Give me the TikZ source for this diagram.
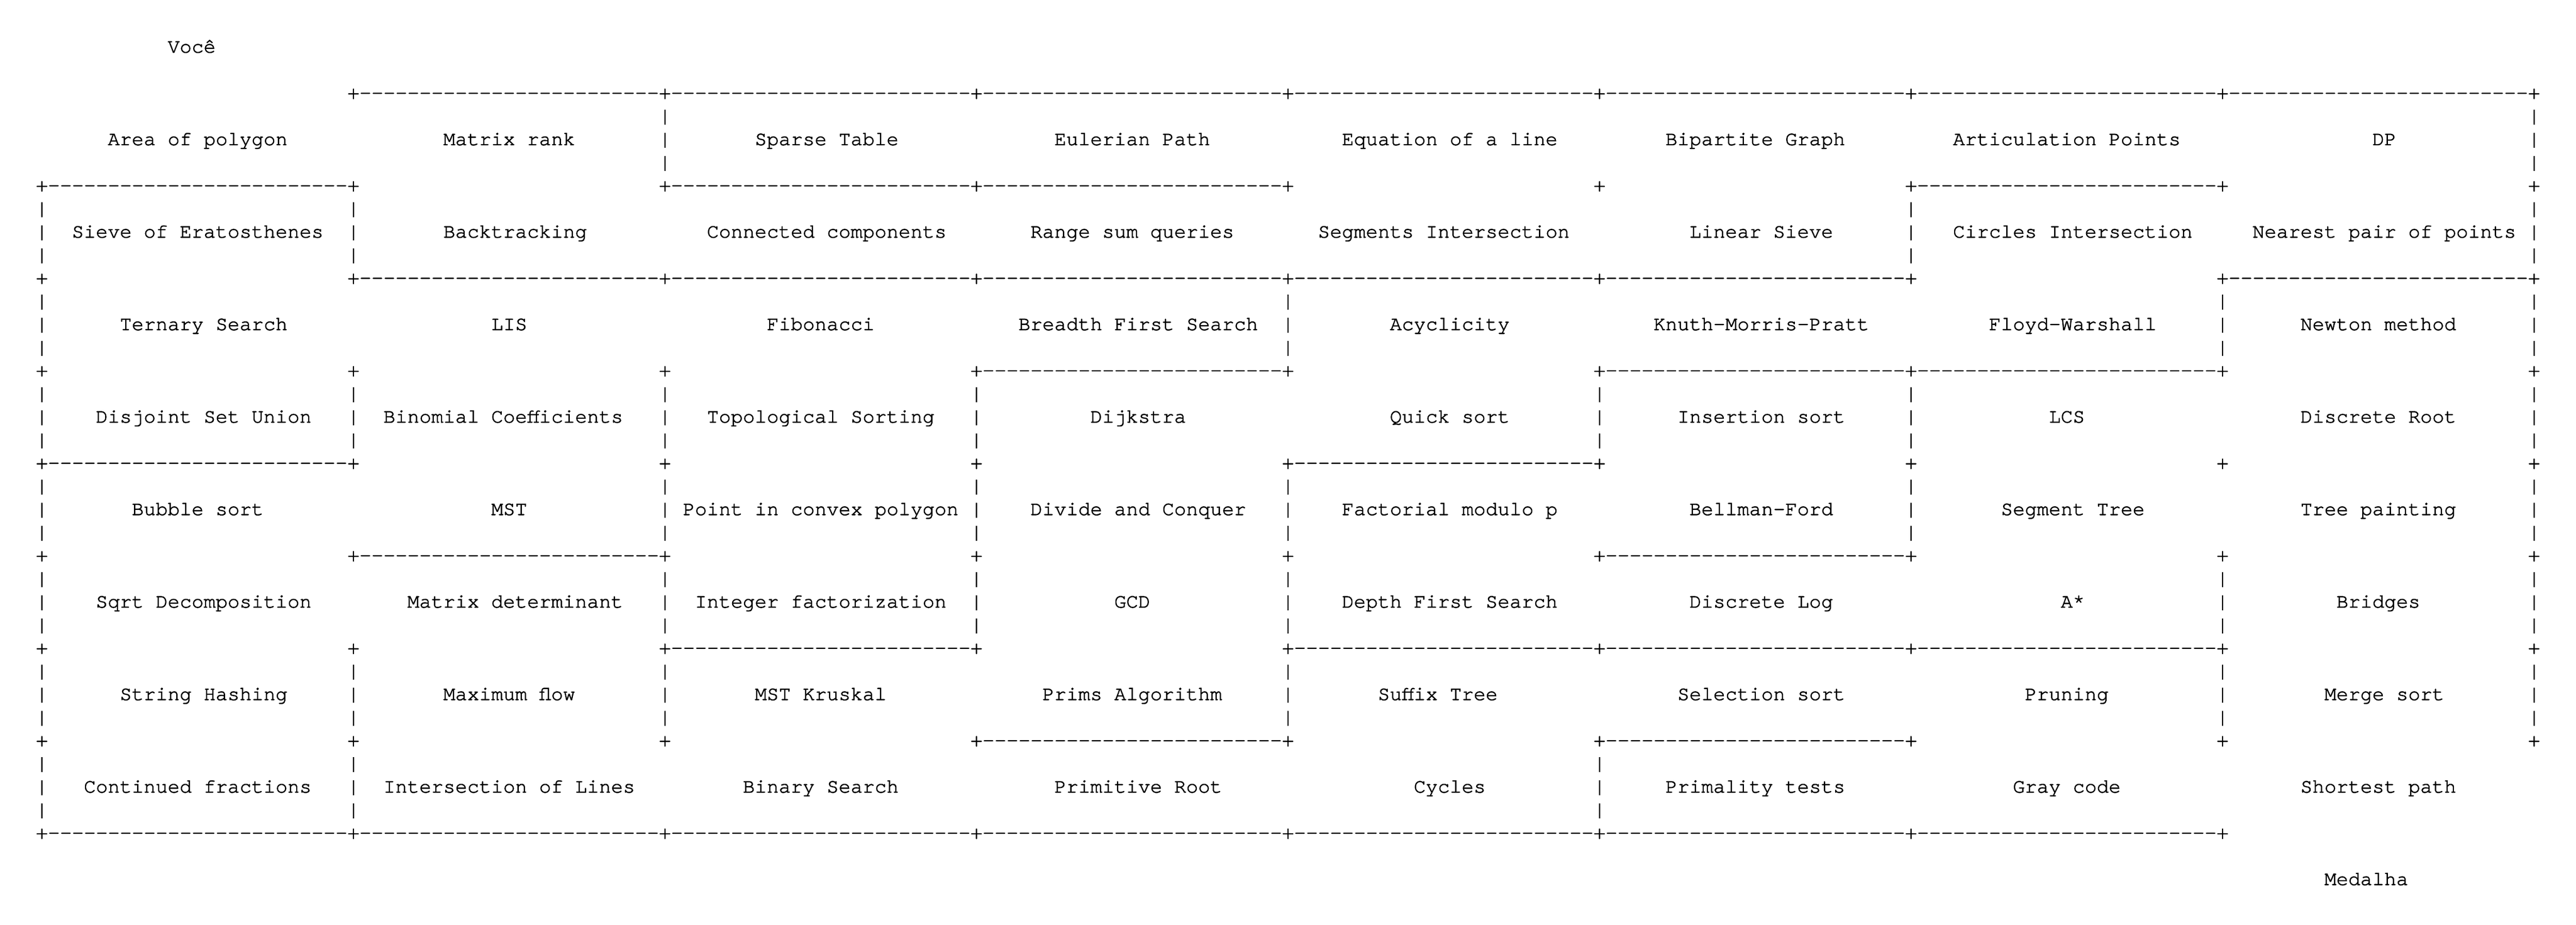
\documentclass[tikz,border=0pt]{standalone}
\usepackage{fontspec}
\setmainfont{TeX Gyre Cursor}
\setmonofont[FakeBold=2]{TeX Gyre Cursor}
\usepackage{xstring}
\usepackage{tikz}

\newcommand\hwall{-------------------------}

\begin{document}
\begin{tikzpicture}[x=6pt, y=-11.583pt,
    glyph/.style={inner sep=0pt, outer sep=0pt, anchor=base west, yshift=-3.2pt, font=\ttfamily}]
    \useasboundingbox (0,0) rectangle (215,40);

    \node[glyph] (start) at (14,2) {Você};
    \node[glyph] (finish) at (194,38) {Medalha};

    % corners
    \foreach \r in {0,...,8}
      \foreach \b in {0,...,8} {
        \pgfmathtruncatemacro\nocorner{(\r==0 && \b==0) || (\r==8 && \b==8)}
        \ifnum\nocorner=0
          \node[glyph] (p-\r-\b) at (3+26*\b,4+4*\r) {+};
        \fi
      }

    % horizontal walls
    \foreach \r/\walls in {0/{1,2,3,4,5,6,7}, 1/{0,2,3,6}, 2/{1,2,3,4,5,7}, 3/{3,5,6},
                           4/{0,4}, 5/{1,5}, 6/{2,4,5,6}, 7/{3,5}, 8/{0,1,2,3,4,5,6}}
      \foreach \c in \walls
        \node[glyph] (h-\r-\c) at (4+26*\c,4+4*\r) {\hwall};

    % vertical walls
    \foreach \r/\bars in {0/{2,8}, 1/{0,1,6,8}, 2/{0,4,7,8}, 3/{0,1,2,3,5,6,8},
                          4/{0,2,3,4,6,8}, 5/{0,2,3,4,7,8}, 6/{0,1,2,4,7,8}, 7/{0,1,5}}
      \foreach \b in \bars
        \foreach \i in {5,6,7}
          \node[glyph] (v-\r-\b-\i) at (3+26*\b,4*\r+\i) {|};

    % topics
    \foreach \r/\names in {
      0/{Area of polygon,Matrix rank,Sparse Table,Eulerian Path,Equation of a line,Bipartite Graph,Articulation Points,DP},
      1/{Sieve of Eratosthenes,Backtracking,Connected components,Range sum queries,Segments Intersection,Linear Sieve,Circles Intersection,Nearest pair of points},
      2/{Ternary Search,LIS,Fibonacci,Breadth First Search,Acyclicity,Knuth-Morris-Pratt,Floyd-Warshall,Newton method},
      3/{Disjoint Set Union,Binomial Coefficients,Topological Sorting,Dijkstra,Quick sort,Insertion sort,LCS,Discrete Root},
      4/{Bubble sort,MST,Point in convex polygon,Divide and Conquer,Factorial modulo p,Bellman-Ford,Segment Tree,Tree painting},
      5/{Sqrt Decomposition,Matrix determinant,Integer factorization,GCD,Depth First Search,Discrete Log,A*,Bridges},
      6/{String Hashing,Maximum flow,MST Kruskal,Prims Algorithm,Suffix Tree,Selection sort,Pruning,Merge sort},
      7/{Continued fractions,Intersection of Lines,Binary Search,Primitive Root,Cycles,Primality tests,Gray code,Shortest path}}
      \foreach \t [count=\c from 0] in \names {
        \StrLen{\t}[\len]
        \pgfmathtruncatemacro\x{4+26*\c+floor((26-\len)/2)}
        \node[glyph] (t-\r-\c) at (\x,4*\r+6) {\t};
      }
\end{tikzpicture}
\end{document}
